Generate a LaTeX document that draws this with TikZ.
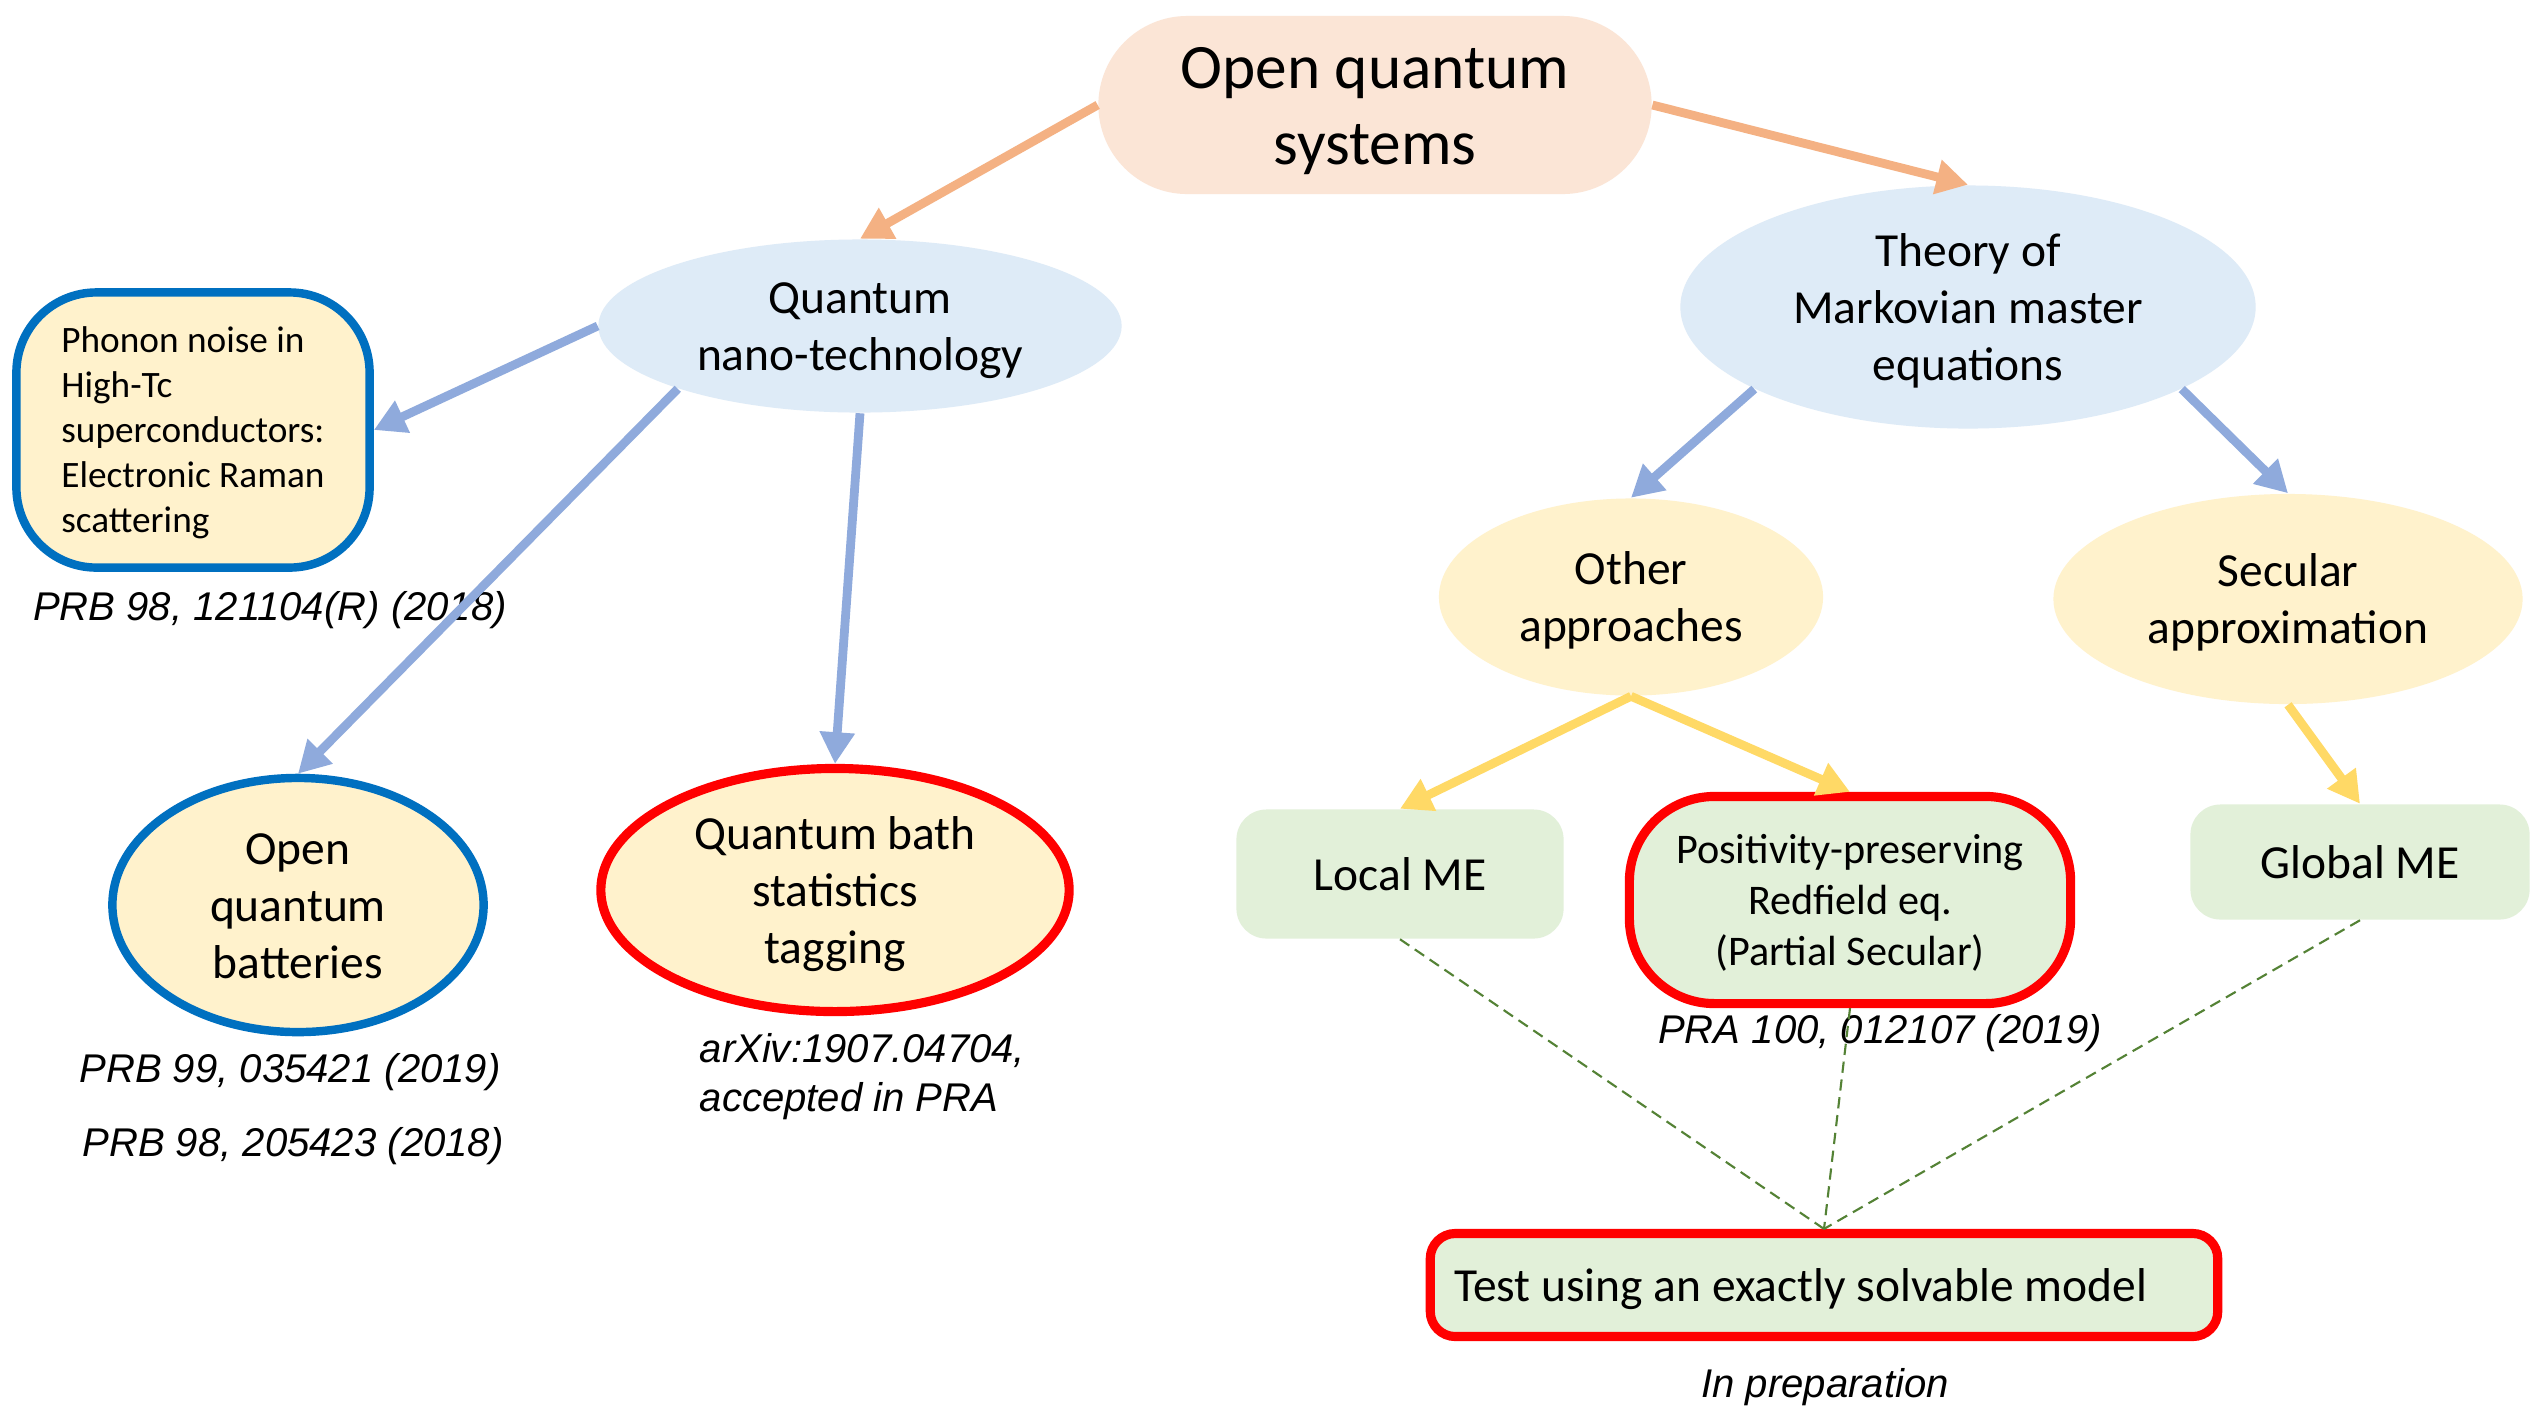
\documentclass[tikz,border=0pt]{standalone}
\usepackage{fontspec}
\setmainfont{Carlito}
\newfontfamily\citefont{Liberation Sans}
\usetikzlibrary{shapes.geometric,shapes.misc,arrows.meta}
\definecolor{ofill}{HTML}{FBE5D6}
\definecolor{oline}{HTML}{F4B183}
\definecolor{bfill}{HTML}{DEEBF7}
\definecolor{bline}{HTML}{8FAADC}
\definecolor{yfill}{HTML}{FFF2CC}
\definecolor{yline}{HTML}{FFD966}
\definecolor{gfill}{HTML}{E2F0D9}
\definecolor{gdash}{HTML}{548235}
\definecolor{bborder}{HTML}{0070C0}
\definecolor{rborder}{HTML}{FF0000}
\newcommand\tu{\rule{0pt}{0.952em}}
\newcommand\td{\rule[-0.269em]{0pt}{0pt}}
\tikzset{
  base/.style={inner sep=0pt, align=center, font=\fontsize{13.5}{16.2}\selectfont},
  blueell/.style={base, ellipse, fill=bfill},
  yell/.style={base, ellipse, fill=yfill},
  greenbox/.style={base, rectangle, fill=gfill, rounded corners=0.3cm},
  cite/.style={inner sep=0pt, font=\citefont\itshape\fontsize{11.4}{13.9}\selectfont},
  arr/.style={line width=2.5pt, -{Triangle[length=9pt,width=9.5pt]}},
  oarr/.style={arr, draw=oline},
  barr/.style={arr, draw=bline},
  yarr/.style={arr, draw=yline},
  darr/.style={draw=gdash, line width=0.6pt, dash pattern=on 3.2pt off 1.9pt},
}
\begin{document}
\begin{tikzpicture}[x=0.01cm,y=-0.01cm]
\path[use as bounding box, fill=white] (0,0) rectangle (2539,1411);

% nodes
\node[base, rounded rectangle, fill=ofill, minimum width=5.53cm, minimum height=1.78cm,
      font=\fontsize{18}{21.6}\selectfont] (top) at (1375,105) {\tu Open quantum\\systems\td};

\node[blueell, minimum width=5.23cm, minimum height=1.73cm] (nano) at (860,326) {\tu Quantum\\nano-technology\td};
\node[blueell, minimum width=5.75cm, minimum height=2.27cm] (theory) at (1968,307) {\tu Theory of\\Markovian master\\equations\td};

\node[base, rectangle, rounded corners=0.8cm, fill=yfill, draw=bborder, line width=2.4pt,
      minimum width=3.53cm, minimum height=2.75cm, align=left,
      font=\fontsize{10.6}{12.8}\selectfont] (phonon) at (193,430)
      {\tu Phonon noise in\\High-Tc\\superconductors:\\Electronic Raman\\scattering\td};

\node[yell, draw=bborder, line width=2.4pt, minimum width=3.71cm, minimum height=2.54cm] (batt) at (298,905) {\tu Open\\quantum\\batteries\td};
\node[yell, draw=rborder, line width=2.6pt, minimum width=4.68cm, minimum height=2.39cm] (bath) at (835,890) {\tu Quantum bath\\statistics\\tagging\td};

\node[yell, minimum width=3.84cm, minimum height=1.97cm] (other) at (1631,597) {\tu Other\\approaches\td};
\node[yell, minimum width=4.69cm, minimum height=2.10cm] (secular) at (2288,599) {\tu Secular\\approximation\td};

\node[greenbox, minimum width=3.27cm, minimum height=1.29cm] (local) at (1400,874) {\tu Local ME\td};
\node[greenbox, rounded corners=0.85cm, draw=rborder, line width=2.6pt, minimum width=4.41cm, minimum height=2.07cm,
      font=\fontsize{12}{14.4}\selectfont] (pos) at (1850,900) {\tu Positivity-preserving\\Redfield eq.\\(Partial Secular)\td};
\node[greenbox, minimum width=3.39cm, minimum height=1.15cm] (global) at (2360,862) {\tu Global ME\td};
\node[greenbox, rounded corners=0.25cm, draw=rborder, line width=2.6pt, minimum width=7.87cm, minimum height=1.03cm]
      (test) at (1824,1285) {\tu\makebox[7.39cm][l]{Test using an exactly solvable model}\td};

% citations
\node[cite] (c1) at (270,610) {PRB 98, 121104(R) (2018)};
\node[cite] (c2) at (290,1072) {PRB 99, 035421 (2019)};
\node[cite] (c3) at (293,1146) {PRB 98, 205423 (2018)};
\node[cite, anchor=west, align=left] (c4) at (699,1077) {arXiv:1907.04704,\\accepted in PRA};
\node[cite] (c5) at (1880,1033) {PRA 100, 012107 (2019)};
\node[cite] (c6) at (1825,1387) {In preparation};

% connectors
\draw[oarr] (top.west) -- (nano.north);
\draw[oarr] (top.east) -- (theory.north);

\draw[barr] (nano.west) -- (phonon.east);
\draw[barr] (nano.199) -- (batt.north);
\draw[barr] (nano.south) -- (bath.north);
\draw[barr] (theory.201) -- (other.north);
\draw[barr] (theory.339) -- (secular.north);

\draw[yarr] (other.south) -- (local.north);
\draw[yarr] (other.south) -- (pos.north);
\draw[yarr] (secular.south) -- (global.north);

\draw[darr] (local.south) -- (test.north);
\draw[darr] (pos.south) -- (test.north);
\draw[darr] (global.south) -- (test.north);
\end{tikzpicture}
\end{document}
